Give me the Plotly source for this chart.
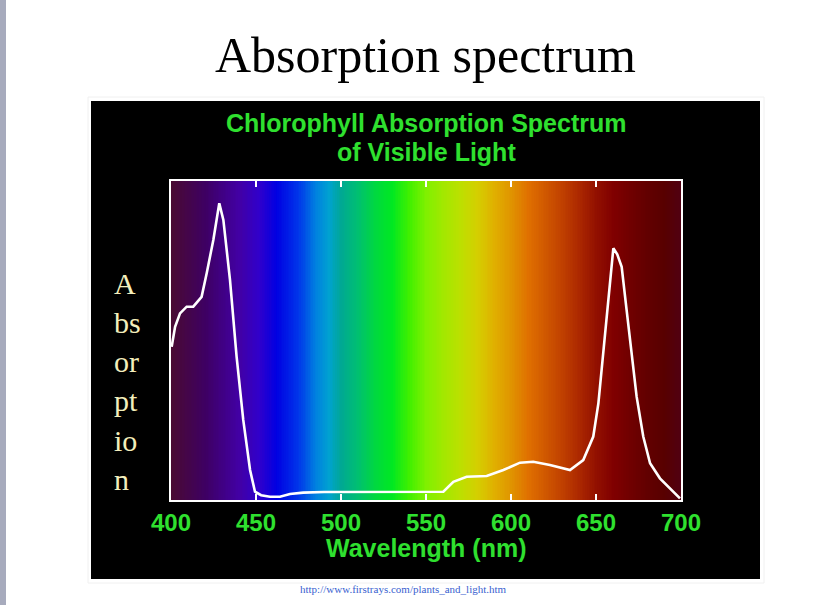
import numpy as np
import plotly.graph_objects as go

# ---- data ----
wavelength = [400.4, 402.4, 405.3, 409.2, 413.1, 418.0, 421.0, 424.9, 428.4, 430.8,
              434.7, 438.6, 442.5, 446.5, 449.4, 453.0, 458.2, 464.1, 470.0, 477.8,
              490.0, 510.0, 530.0, 552.4, 560.2, 566.1, 573.9, 585.7, 595.5, 605.3,
              613.1, 622.9, 634.7, 642.5, 648.4, 651.4, 654.3, 657.3, 660.2, 662.5,
              665.1, 668.0, 671.0, 673.9, 677.8, 681.8, 687.6, 693.5, 699.4]
absorption = [0.48, 0.543, 0.585, 0.606, 0.606, 0.637, 0.711, 0.815, 0.930, 0.878,
              0.690, 0.449, 0.251, 0.094, 0.026, 0.015, 0.010, 0.010, 0.019, 0.023,
              0.025, 0.025, 0.025, 0.026, 0.026, 0.057, 0.073, 0.075, 0.094, 0.117,
              0.120, 0.110, 0.094, 0.125, 0.199, 0.303, 0.460, 0.637, 0.789, 0.770,
              0.731, 0.596, 0.449, 0.324, 0.199, 0.115, 0.068, 0.037, 0.005]

tick_values = [400, 450, 500, 550, 600, 650, 700]
tick_labels = ["400", "450", "500", "550", "600", "650", "700"]

# spectrum background colour stops (wavelength, colour)
spectrum_wl = [400, 420, 440, 452, 462, 475, 485, 493, 500, 510, 520, 530, 540, 550,
               560, 570, 580, 590, 600, 610, 620, 630, 640, 650, 660, 670, 680, 690, 700]
spectrum_col = ["#4a0a32", "#3e0062", "#4200a4", "#3000cc", "#0000e2", "#0036ea",
                "#0080e0", "#00a2d0", "#00a894", "#00c070", "#00d840", "#00e822",
                "#40f000", "#80f000", "#a2e800", "#bce000", "#d4cf00", "#e0b000",
                "#e09400", "#e07000", "#d05800", "#c04000", "#ac2800", "#921000",
                "#800000", "#700000", "#620000", "#580000", "#500012"]

W, H = 828, 605
def px(x): return x / W
def py(y): return 1 - y / H

GREEN = "#2fe02f"
grid = np.arange(400, 701, 1)
cscale = [[(w - 400) / 300, c] for w, c in zip(spectrum_wl, spectrum_col)]

fig = go.Figure()
fig.add_trace(go.Heatmap(x=grid, y=[0, 1], z=[grid, grid], colorscale=cscale,
                         zmin=400, zmax=700, showscale=False, hoverinfo="skip"))
fig.add_trace(go.Scatter(x=wavelength, y=absorption, mode="lines",
                         line=dict(color="white", width=2.6), hoverinfo="skip"))

fig.update_layout(
    width=W, height=H, margin=dict(l=0, r=0, t=0, b=0, pad=0),
    paper_bgcolor="white", plot_bgcolor="black", showlegend=False,
    xaxis=dict(domain=[px(171), px(681)], range=[400, 700], tickvals=tick_values,
               ticktext=tick_labels, ticks="inside", ticklen=6, tickwidth=1.5,
               tickcolor="white", showline=True, mirror="ticks", linecolor="white",
               linewidth=2, showgrid=False, zeroline=False, automargin=False,
               tickfont=dict(family="Liberation Sans", size=24, color=GREEN, weight="bold")),
    yaxis=dict(domain=[py(500), py(181)], range=[0, 1], showticklabels=False,
               ticks="", showline=True, mirror=True, linecolor="white", linewidth=2,
               showgrid=False, zeroline=False, automargin=False),
)

shapes = [
    dict(type="rect", xref="paper", yref="paper", x0=px(0), x1=px(6), y0=0, y1=1,
         fillcolor="#a7abbd", line=dict(width=0), layer="below"),
    dict(type="rect", xref="paper", yref="paper", x0=px(88), x1=px(764), y0=py(583), y1=py(97),
         fillcolor="rgba(0,0,0,0)", line=dict(color="#f0f0f0", width=1), layer="below"),
    dict(type="rect", xref="paper", yref="paper", x0=px(91), x1=px(760), y0=py(579), y1=py(101),
         fillcolor="black", line=dict(width=0), layer="below"),
]
fig.update_layout(shapes=shapes)

ann = []
ann.append(dict(text="Absorption spectrum", x=px(426), y=py(55), xref="paper", yref="paper",
                showarrow=False, xanchor="center", yanchor="middle",
                font=dict(family="Liberation Serif", size=50, color="black")))
ann.append(dict(text="Chlorophyll Absorption Spectrum", x=px(426), y=py(123), xref="paper",
                yref="paper", showarrow=False, xanchor="center", yanchor="middle",
                font=dict(family="Liberation Sans", size=25, color=GREEN, weight="bold")))
ann.append(dict(text="of Visible Light", x=px(427), y=py(152), xref="paper",
                yref="paper", showarrow=False, xanchor="center", yanchor="middle",
                font=dict(family="Liberation Sans", size=25, color=GREEN, weight="bold")))
ann.append(dict(text="Wavelength (nm)", x=px(426), y=py(548), xref="paper",
                yref="paper", showarrow=False, xanchor="center", yanchor="middle",
                font=dict(family="Liberation Sans", size=25, color=GREEN, weight="bold")))
ylab_parts = ["A", "bs", "or", "pt", "io", "n"]
ylab_base = [293, 332, 371, 410, 450, 489]
for t, b in zip(ylab_parts, ylab_base):
    ann.append(dict(text=t, x=px(112), y=py(b - 10), xref="paper", yref="paper",
                    showarrow=False, xanchor="left", yanchor="middle",
                    font=dict(family="Liberation Serif", size=30, color="#f3eebc")))
ann.append(dict(text="http://www.firstrays.com/plants_and_light.htm", x=px(403), y=py(589),
                xref="paper", yref="paper", showarrow=False, xanchor="center",
                yanchor="middle",
                font=dict(family="Liberation Serif", size=11, color="#3a5fd0")))
fig.update_layout(annotations=ann)

fig.write_html("out.html", config={"displayModeBar": False},
               post_script="document.body.style.margin='0';")
